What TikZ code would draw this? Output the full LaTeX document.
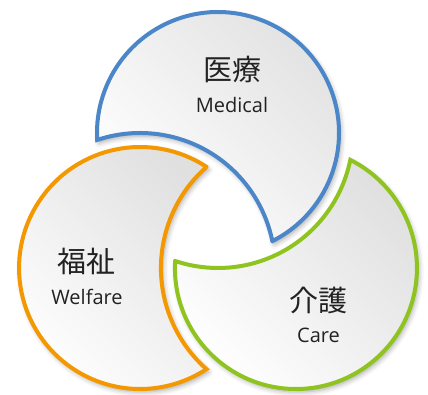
\documentclass[tikz,border=0pt]{standalone}
\usepackage{fontspec}
\setmainfont{Open Sans}
\newfontfamily\jpfont{Noto Sans CJK JP}
\usepackage{xcolor}
\usetikzlibrary{shadows.blur}
\definecolor{medblue}{HTML}{4A86C8}
\definecolor{welorange}{HTML}{F39800}
\definecolor{caregreen}{HTML}{8FC31F}
\definecolor{txtgray}{HTML}{222222}

\begin{document}
\begin{tikzpicture}[x=1pt,y=1pt,
	petal/.style={draw=#1,line width=4pt,line join=miter,
		top color=black!12,bottom color=white,shading angle=-45,
		blur shadow={shadow xshift=2pt,shadow yshift=-3pt,shadow blur radius=5pt,shadow opacity=35}},
	kanji/.style={font=\jpfont\fontsize{29}{29}\selectfont,text=txtgray,inner sep=0pt},
	latin/.style={font=\fontsize{20}{20}\selectfont,text=txtgray,inner sep=0pt,anchor=base}]
		\useasboundingbox (-218,-171) rectangle (210,223);
		\coordinate (cB) at (90:90);
		\coordinate (cO) at (210:90);
		\coordinate (cG) at (330:90);
		% each circle is bitten by the next one
		\draw[petal=medblue] (cB) ++(-63.3:121) arc[start angle=-63.3,end angle=183.3,radius=121]
			arc[start angle=108.5,end angle=11.5,radius=135] -- cycle;
		\draw[petal=welorange] (cO) ++(56.7:121) arc[start angle=56.7,end angle=303.3,radius=121]
			arc[start angle=228.5,end angle=131.5,radius=135] -- cycle;
		\draw[petal=caregreen] (cG) ++(176.7:121) arc[start angle=176.7,end angle=423.3,radius=121]
			arc[start angle=348.5,end angle=251.5,radius=135] -- cycle;
		\node[kanji] (med) at (14,153.5) {医療};
		\node[latin] (medEn) at (14,111) {Medical};
		\node[kanji] (wel) at (-131,-38) {福祉};
		\node[latin] (welEn) at (-131,-81) {Welfare};
		\node[kanji] (care) at (100.5,-77) {介護};
		\node[latin] (careEn) at (100.5,-119) {Care};
	\end{tikzpicture}
\end{document}
